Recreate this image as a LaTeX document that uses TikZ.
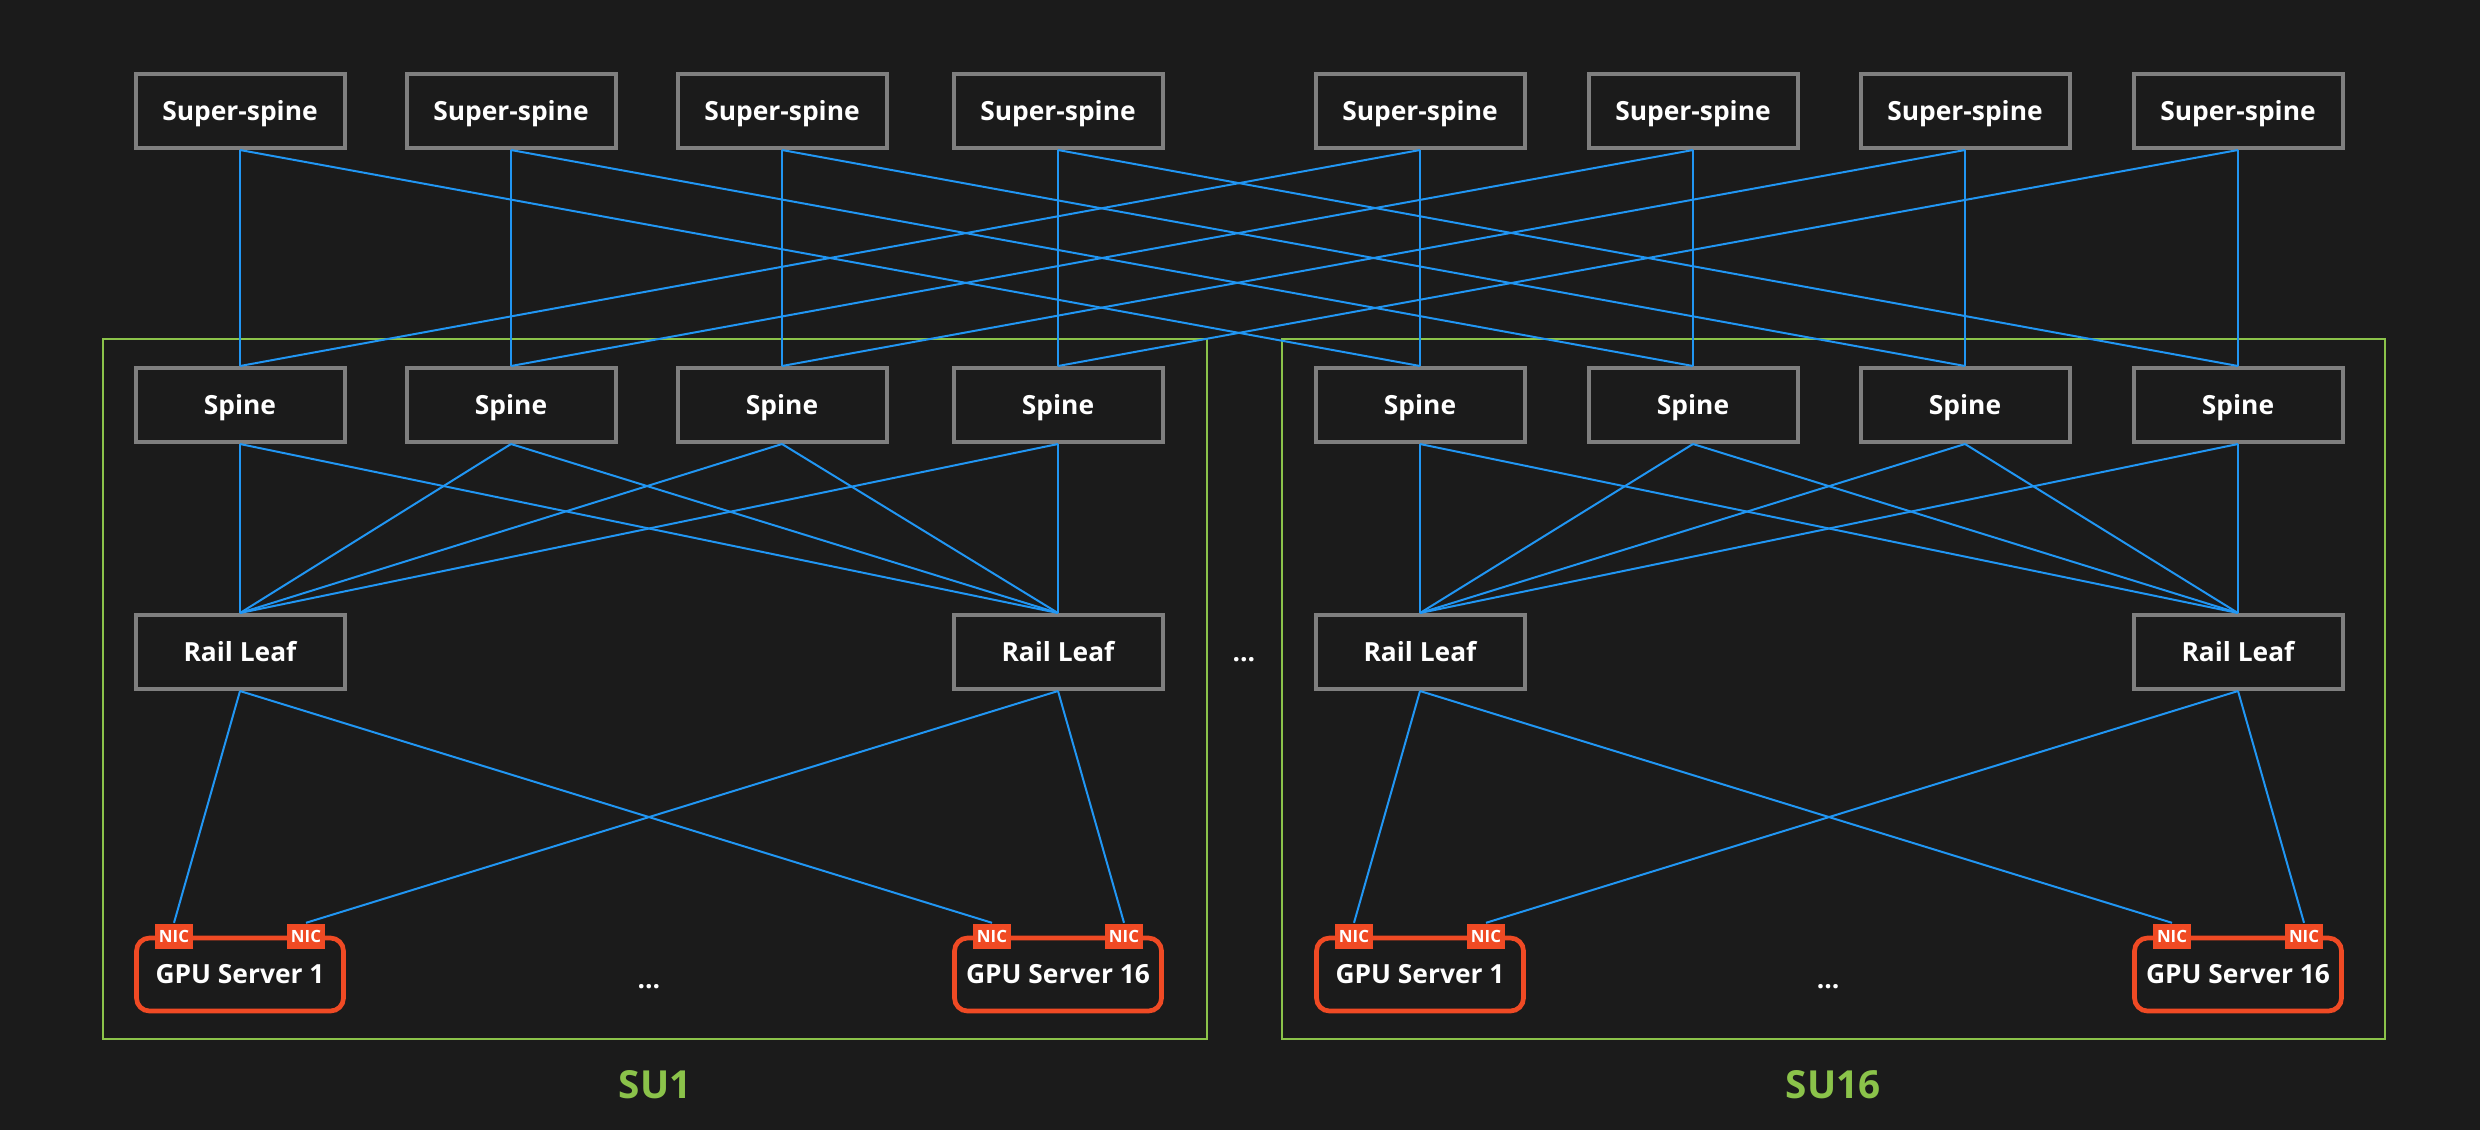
\documentclass[tikz,border=0pt]{standalone}
\usepackage{fontspec}
\setmainfont{Open Sans}
\usetikzlibrary{positioning}
\definecolor{bgdark}{HTML}{1B1B1B}
\definecolor{boxgray}{HTML}{7F7F7F}
\definecolor{linkblue}{HTML}{2196F3}
\definecolor{sugreen}{HTML}{8BC34A}
\definecolor{nicred}{HTML}{F04A24}

\begin{document}
\begin{tikzpicture}[x=0.1mm,y=-0.1mm,
        switchbox/.style={draw=boxgray,line width=0.4mm,fill=bgdark,minimum width=20.9mm,minimum height=7.4mm,
            inner sep=0pt,text height=1.88mm,text depth=0pt,text=white,font=\bfseries\fontsize{7.5}{9}\selectfont},
        serverbox/.style={draw=nicred,line width=0.47mm,rounded corners=1.3mm,fill=bgdark,minimum width=20.7mm,
            minimum height=7.3mm,inner sep=0pt,text height=1.88mm,text depth=0pt,text=white,
            font=\bfseries\fontsize{7.5}{9}\selectfont},
        nicbox/.style={fill=nicred,minimum width=3.8mm,minimum height=2.5mm,inner sep=0pt,text height=1.2mm,
            text depth=0pt,text=white,font=\bfseries\fontsize{4.8}{5}\selectfont},
        link/.style={linkblue,line width=0.2mm},
        suframe/.style={sugreen,line width=0.2mm},
        sulabel/.style={text=sugreen,text height=2.76mm,text depth=0pt,font=\bfseries\fontsize{11}{13}\selectfont},
        dots/.style={text=white,inner sep=0pt,font=\bfseries\fontsize{7.5}{9}\selectfont}]

        % Background
        \fill[bgdark] (0,0) rectangle (2480,1130);

        % Scalable units
        \draw[suframe] (103,339) rectangle (1207,1039);
        \draw[suframe] (1282,339) rectangle (2385,1039);
        \node[sulabel] (su1) at (655,1085) {SU1};
        \node[sulabel] (su16) at (1833,1085) {SU16};

        % Super-spines and spines
        \foreach \x [count=\i] in {240,511,782,1058,1420,1693,1965,2238} {
            \node[switchbox] (ss\i) at (\x,111) {Super-spine};
            \node[switchbox] (sp\i) at (\x,405) {Spine};
        }

        % Rail leafs
        \node[switchbox] (leaf1) at (240,652) {Rail Leaf};
        \node[switchbox] (leaf2) at (1058,652) {Rail Leaf};
        \node[switchbox] (leaf3) at (1420,652) {Rail Leaf};
        \node[switchbox] (leaf4) at (2238,652) {Rail Leaf};

        % GPU servers with two NICs each
        \foreach \x/\n/\t in {240/1/1,1058/2/16,1420/3/1,2238/4/16} {
            \node[serverbox] (gpu\n) at (\x,974.5) {GPU Server \t};
            \node[nicbox] (nicA\n) at ({\x-66},936) {NIC};
            \node[nicbox] (nicB\n) at ({\x+66},936) {NIC};
        }

        % Dots
        \node[dots] (dots1) at (649,987) {…};
        \node[dots] (dots2) at (1828,987) {…};
        \node[dots] (dots3) at (1244,660) {…};

        % Super-spine to spine
        \foreach \i/\j in {1/5,2/6,3/7,4/8} {
            \draw[link] (ss\i.south) -- (sp\i.north);
            \draw[link] (ss\i.south) -- (sp\j.north);
            \draw[link] (ss\j.south) -- (sp\j.north);
            \draw[link] (ss\j.south) -- (sp\i.north);
        }

        % Spine to rail leaf
        \foreach \i/\j in {1/5,2/6,3/7,4/8} {
            \draw[link] (sp\i.south) -- (leaf1.north);
            \draw[link] (sp\i.south) -- (leaf2.north);
            \draw[link] (sp\j.south) -- (leaf3.north);
            \draw[link] (sp\j.south) -- (leaf4.north);
        }

        % Rail leaf to NIC
        \foreach \l/\a/\b in {1/A1/A2,2/B1/B2,3/A3/A4,4/B3/B4} {
            \draw[link] (leaf\l.south) -- (nic\a.north);
            \draw[link] (leaf\l.south) -- (nic\b.north);
        }
    \end{tikzpicture}
\end{document}
